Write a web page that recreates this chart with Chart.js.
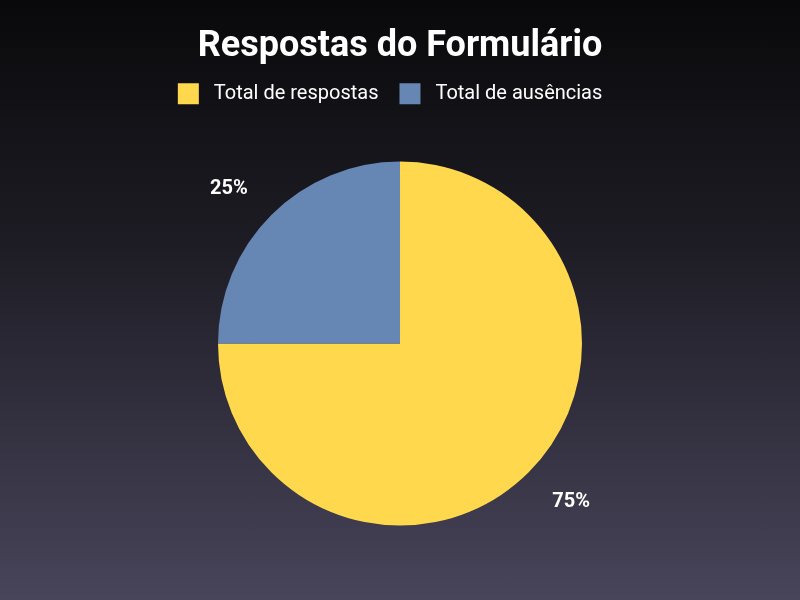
<!DOCTYPE html>
<html><head><meta charset="utf-8">
<script src="https://cdn.jsdelivr.net/npm/chart.js@4/dist/chart.umd.min.js"></script>
<style>
html,body{margin:0;padding:0;width:800px;height:600px;overflow:hidden;}
body{background:linear-gradient(to bottom,#09090b 0%,#1d1c24 40%,#48445a 100%);}
#wrap{width:800px;height:600px;position:relative;}
</style></head>
<body><div id="wrap"><canvas id="c" width="800" height="600"></canvas></div>
<script>
const categories = ["Total de respostas", "Total de ausências"];
const values = [75, 25];
const colors = ["#FFD84E", "#6686B3"];
const chartTitle = "Respostas do Formulário";

const outsideLabels = {
  id: 'outsideLabels',
  afterDatasetsDraw(chart) {
    const ctx = chart.ctx;
    const meta = chart.getDatasetMeta(0);
    const total = values.reduce((a, b) => a + b, 0);
    ctx.save();
    ctx.font = 'bold 20px Roboto';
    ctx.fillStyle = '#ffffff';
    ctx.textAlign = 'center';
    ctx.textBaseline = 'middle';
    meta.data.forEach((arc, i) => {
      const mid = (arc.startAngle + arc.endAngle) / 2;
      const r = arc.outerRadius * 1.205;
      const cx = Math.cos(mid), cy = Math.sin(mid);
      const x = arc.x + cx * r + Math.sign(cx) * 16;
      const y = arc.y + cy * r + (cy > 0 ? 3 : 0);
      ctx.fillText(Math.round(values[i] / total * 100) + '%', x, y);
    });
    ctx.restore();
  }
};

new Chart(document.getElementById('c'), {
  type: 'pie',
  data: {
    labels: categories,
    datasets: [{ data: values, backgroundColor: colors, borderWidth: 0, radius: 182 }]
  },
  options: {
    responsive: false,
    animation: false,
    layout: { padding: { top: 0, bottom: 27, left: 0, right: 0 } },
    plugins: {
      title: {
        display: true,
        text: chartTitle,
        color: '#ffffff',
        font: { family: 'Roboto', size: 36, weight: 'bold' },
        padding: { top: 25, bottom: -6 }
      },
      legend: {
        position: 'top',
        labels: {
          color: '#ffffff',
          font: { family: 'Roboto', size: 20 },
          boxWidth: 21,
          boxHeight: 21,
          padding: 21,
          generateLabels(chart) {
            const items = Chart.overrides.pie.plugins.legend.labels.generateLabels(chart);
            items.forEach((it, i) => {
              it.text = ' ' + it.text + (i === items.length - 1 ? '    ' : '');
            });
            return items;
          }
        }
      },
      tooltip: { enabled: false }
    }
  },
  plugins: [outsideLabels]
});
</script></body></html>
